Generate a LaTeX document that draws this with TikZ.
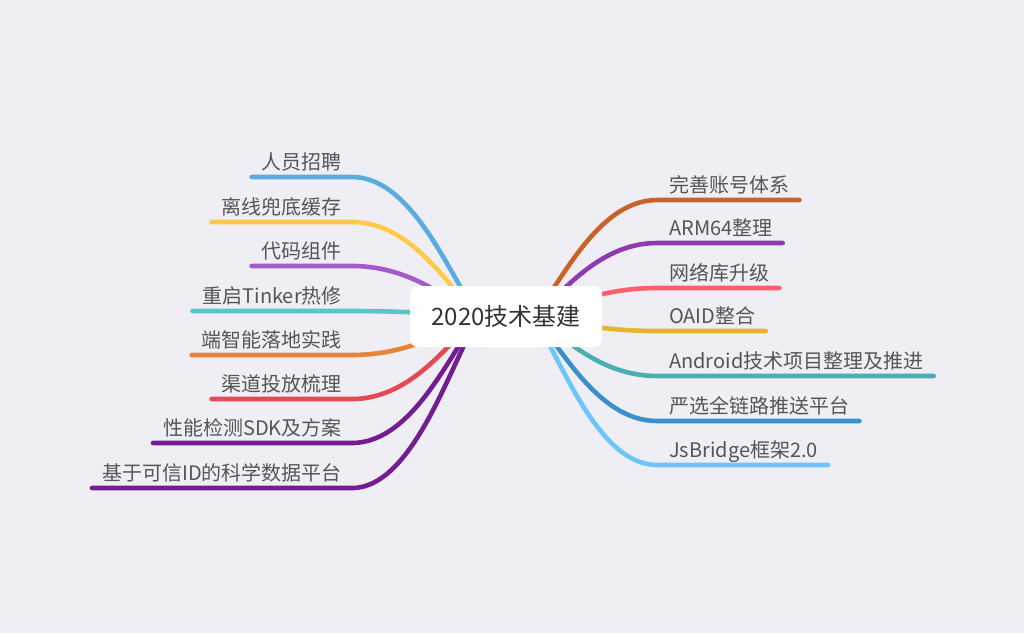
\documentclass[tikz,border=0pt]{standalone}
\usepackage{fontspec}
\setmainfont{Noto Sans CJK SC}
\usetikzlibrary{calc}
\pgfdeclarelayer{back}
\pgfdeclarelayer{bg}
\pgfsetlayers{back,bg,main}
\definecolor{bgcol}{RGB}{239,238,244}
\definecolor{labelgray}{RGB}{85,85,85}
\definecolor{rootgray}{RGB}{51,51,51}
\definecolor{cA}{HTML}{C8642A}
\definecolor{cB}{HTML}{8E3BB0}
\definecolor{cC}{HTML}{FF5F6D}
\definecolor{cD}{HTML}{E6B52A}
\definecolor{cE}{HTML}{4BAEAF}
\definecolor{cF}{HTML}{3B8FCB}
\definecolor{cG}{HTML}{6DC6FA}
\definecolor{dA}{HTML}{58ACE0}
\definecolor{dB}{HTML}{FDCB47}
\definecolor{dC}{HTML}{A659C8}
\definecolor{dD}{HTML}{5BC4C7}
\definecolor{dE}{HTML}{E8833A}
\definecolor{dF}{HTML}{E44A52}
\definecolor{dG}{HTML}{731D93}
% #1 name, #2 colour, #3 line y, #4 text
\newcommand\RBranch[4]{%
  \coordinate (#1E) at (657,#3);
  \node[lbl, anchor=base west] (#1) at ({669},{#3-8}) {#4};
  \coordinate (#1M) at ($(rootR)!0.5!(#1E)$);
  \coordinate (#1T) at ($(#1.base east)+(10,8)$);
  \begin{pgfonlayer}{bg}
    \draw[br, draw=#2] (rootR) .. controls ($(rootR)!0.2!(#1E)$) and (#1M |- #1E) .. (#1E) -- (#1T);
  \end{pgfonlayer}
}
\newcommand\LBranch[4]{%
  \coordinate (#1E) at (352,#3);
  \node[lbl, anchor=base east] (#1) at ({342},{#3-8}) {#4};
  \coordinate (#1M) at ($(rootL)!0.5!(#1E)$);
  \coordinate (#1T) at ($(#1.base west)+(-10,8)$);
  \begin{pgfonlayer}{bg}
    \draw[br, draw=#2] (rootL) .. controls ($(rootL)!0.2!(#1E)$) and (#1M |- #1E) .. (#1E) -- (#1T);
  \end{pgfonlayer}
}
\begin{document}
\begin{tikzpicture}[x=1pt,y=-1pt,
  br/.style={line width=4.6pt, line cap=round},
  lbl/.style={inner sep=0pt, text=labelgray, font=\fontsize{20}{24}\selectfont},
  rootbox/.style={fill=white, rounded corners=8pt, minimum width=192pt, minimum height=61pt,
    inner sep=0pt, text=rootgray, font=\fontsize{24}{28}\selectfont}]
\useasboundingbox (0,0) rectangle (1024,633);
\begin{pgfonlayer}{back}
  \fill[bgcol] (0,0) rectangle (1024,633);
\end{pgfonlayer}
\node[rootbox] (root) at (506,316.5) {2020技术基建};
\coordinate (rootL) at ($(root.center)+(-26,0)$);
\coordinate (rootR) at ($(root.center)+(26,0)$);
\RBranch{r1}{cA}{200}{完善账号体系}
\RBranch{r2}{cB}{243}{ARM64整理}
\RBranch{r3}{cC}{288}{网络库升级}
\RBranch{r4}{cD}{331}{OAID整合}
\RBranch{r5}{cE}{376}{Android技术项目整理及推进}
\RBranch{r6}{cF}{421}{严选全链路推送平台}
\RBranch{r7}{cG}{465}{JsBridge框架2.0}
\LBranch{l1}{dA}{177}{人员招聘}
\LBranch{l2}{dB}{222}{离线兜底缓存}
\LBranch{l3}{dC}{266}{代码组件}
\LBranch{l4}{dD}{311}{重启Tinker热修}
\LBranch{l5}{dE}{355}{端智能落地实践}
\LBranch{l6}{dF}{399}{渠道投放梳理}
\LBranch{l7}{dG}{443}{性能检测SDK及方案}
\LBranch{l8}{dG}{488}{基于可信ID的科学数据平台}
\end{tikzpicture}
\end{document}
